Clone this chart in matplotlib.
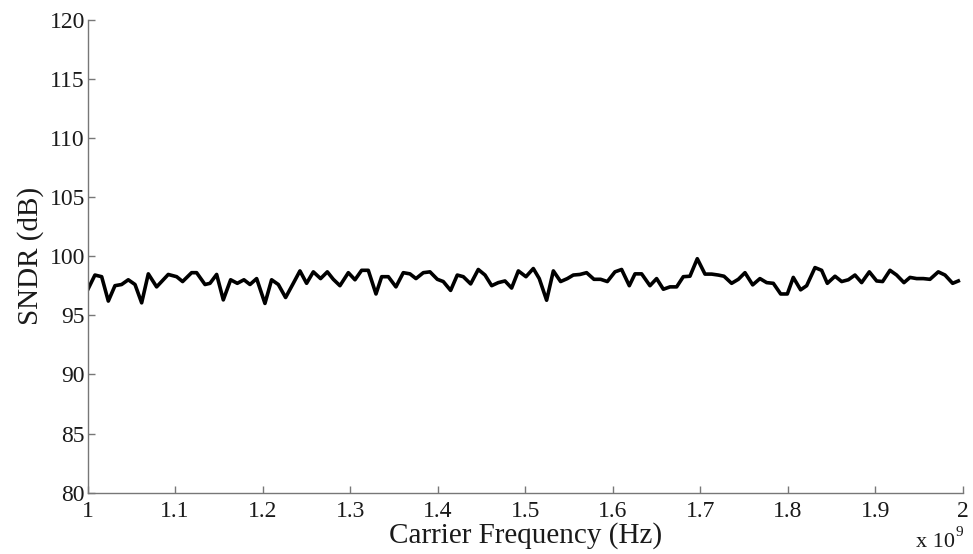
import matplotlib
matplotlib.use("Agg")
import matplotlib.pyplot as plt

# carrier frequency (in units of 1e9 Hz) and SNDR (dB)
freq = [1.0000, 1.0083, 1.0160, 1.0236, 1.0312, 1.0388, 1.0464, 1.0541, 1.0617, 1.0693,
        1.0788, 1.0921, 1.1017, 1.1085, 1.1188, 1.1245, 1.1341, 1.1398, 1.1474, 1.1550,
        1.1634, 1.1710, 1.1786, 1.1855, 1.1931, 1.2026, 1.2102, 1.2179, 1.2262, 1.2350,
        1.2426, 1.2502, 1.2579, 1.2662, 1.2739, 1.2807, 1.2883, 1.2979, 1.3055, 1.3131,
        1.3207, 1.3295, 1.3360, 1.3436, 1.3523, 1.3607, 1.3683, 1.3752, 1.3836, 1.3912,
        1.3996, 1.4064, 1.4148, 1.4224, 1.4293, 1.4377, 1.4464, 1.4541, 1.4617, 1.4693,
        1.4769, 1.4845, 1.4922, 1.5009, 1.5093, 1.5161, 1.5245, 1.5322, 1.5405, 1.5482,
        1.5550, 1.5626, 1.5702, 1.5786, 1.5862, 1.5939, 1.6026, 1.6102, 1.6190, 1.6255,
        1.6331, 1.6426, 1.6502, 1.6579, 1.6655, 1.6731, 1.6807, 1.6883, 1.6967, 1.7055,
        1.7131, 1.7207, 1.7272, 1.7359, 1.7436, 1.7512, 1.7600, 1.7683, 1.7760, 1.7836,
        1.7920, 1.7996, 1.8064, 1.8148, 1.8217, 1.8312, 1.8388, 1.8453, 1.8541, 1.8617,
        1.8693, 1.8769, 1.8845, 1.8933, 1.9017, 1.9085, 1.9169, 1.9245, 1.9329, 1.9398,
        1.9474, 1.9550, 1.9626, 1.9721, 1.9798, 1.9885, 1.9950]
sndr = [97.15, 98.40, 98.26, 96.20, 97.50, 97.60, 98.00, 97.60, 96.05, 98.50,
        97.40, 98.45, 98.26, 97.85, 98.60, 98.60, 97.60, 97.70, 98.45, 96.30,
        98.00, 97.70, 98.00, 97.60, 98.10, 96.00, 98.00, 97.60, 96.50, 97.70,
        98.75, 97.70, 98.67, 98.10, 98.67, 98.04, 97.50, 98.60, 98.00, 98.80,
        98.80, 96.80, 98.26, 98.26, 97.40, 98.60, 98.50, 98.10, 98.60, 98.67,
        98.04, 97.85, 97.10, 98.40, 98.26, 97.65, 98.87, 98.40, 97.50, 97.76,
        97.90, 97.30, 98.75, 98.26, 98.95, 98.10, 96.27, 98.75, 97.85, 98.10,
        98.40, 98.45, 98.60, 98.04, 98.04, 97.85, 98.67, 98.87, 97.50, 98.50,
        98.50, 97.50, 98.10, 97.20, 97.40, 97.40, 98.26, 98.30, 99.78, 98.48,
        98.48, 98.40, 98.30, 97.70, 98.04, 98.60, 97.57, 98.10, 97.76, 97.70,
        96.80, 96.80, 98.20, 97.15, 97.50, 99.03, 98.80, 97.70, 98.30, 97.85,
        98.00, 98.40, 97.76, 98.67, 97.90, 97.85, 98.80, 98.40, 97.76, 98.20,
        98.10, 98.10, 98.04, 98.67, 98.40, 97.70, 97.90]

x_ticks = [1, 1.1, 1.2, 1.3, 1.4, 1.5, 1.6, 1.7, 1.8, 1.9, 2]
x_labels = ["1", "1.1", "1.2", "1.3", "1.4", "1.5", "1.6", "1.7", "1.8", "1.9", "2"]
y_ticks = [80, 85, 90, 95, 100, 105, 110, 115, 120]

plt.rcParams['font.family'] = ['Liberation Serif', 'DejaVu Serif']
plt.rcParams['font.size'] = 17

fig = plt.figure(figsize=(9.73, 5.54), dpi=100)
ax = fig.add_axes([0.0901, 0.1106, 0.8993, 0.8542])

ax.plot(freq, sndr, color="black", linewidth=2.6)

ax.set_xlim(1, 2)
ax.set_ylim(80, 120)
ax.set_xticks(x_ticks)
ax.set_xticklabels(x_labels)
ax.set_yticks(y_ticks)

for s in ["top", "right"]:
    ax.spines[s].set_visible(False)
for s in ["left", "bottom"]:
    ax.spines[s].set_color("#777777")
    ax.spines[s].set_linewidth(1.0)

ax.tick_params(direction="in", length=5, width=1, color="#777777",
               labelcolor="#1a1a1a")
ax.tick_params(axis="x", pad=6)
ax.tick_params(axis="y", pad=2)

ax.set_xlabel("Carrier Frequency (Hz)", color="#1a1a1a", fontsize=21, labelpad=0)
ax.set_ylabel("SNDR (dB)", color="#1a1a1a", fontsize=21, labelpad=4)

# exponent note under the right end of the x axis
fig.text(0.981, 0.012, "x 10", ha="right", va="baseline", color="#1a1a1a",
         fontsize=16)
fig.text(0.982, 0.032, "9", ha="left", va="baseline", color="#1a1a1a",
         fontsize=11)

fig.savefig("out.png", dpi=100)
